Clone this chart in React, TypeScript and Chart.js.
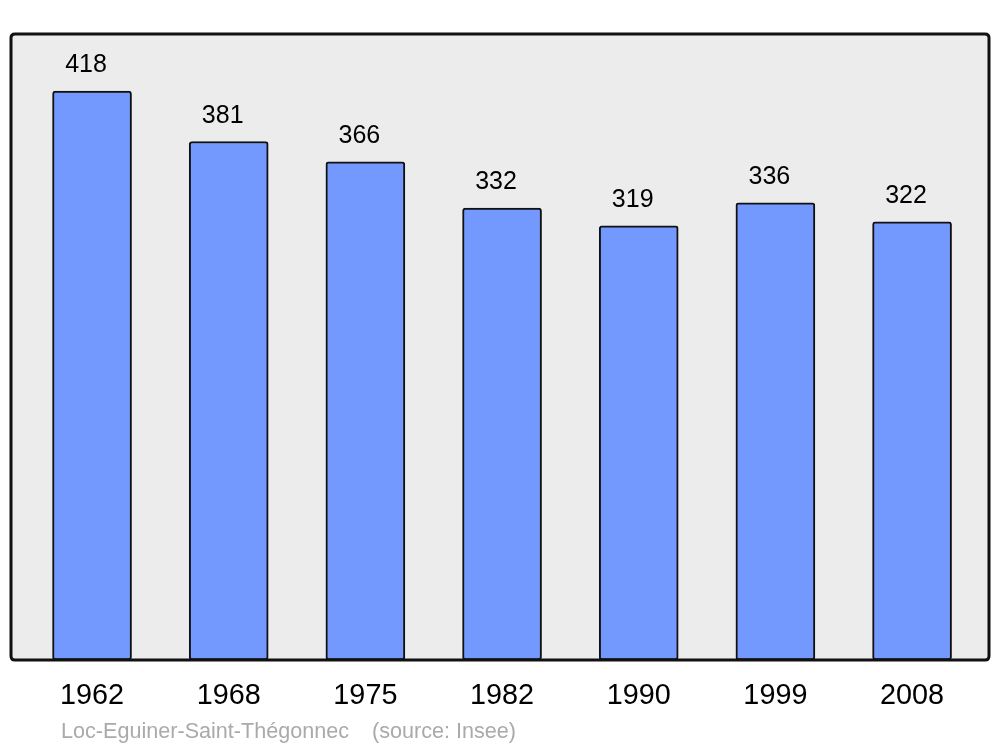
import React, { useEffect, useRef } from "react";
import { Chart, registerables } from "chart.js";

Chart.register(...registerables);

const years = ["1962", "1968", "1975", "1982", "1990", "1999", "2008"];
const population = [418, 381, 366, 332, 319, 336, 322];
const yMax = 460;
const placeName = "Loc-Eguiner-Saint-Thégonnec";
const sourceText = "(source: Insee)";

const FONT = "'Liberation Sans', Arial, Helvetica, sans-serif";

function roundRect(ctx: CanvasRenderingContext2D, x: number, y: number, w: number, h: number, r: number) {
  ctx.beginPath();
  ctx.moveTo(x + r, y);
  ctx.lineTo(x + w - r, y);
  ctx.quadraticCurveTo(x + w, y, x + w, y + r);
  ctx.lineTo(x + w, y + h - r);
  ctx.quadraticCurveTo(x + w, y + h, x + w - r, y + h);
  ctx.lineTo(x + r, y + h);
  ctx.quadraticCurveTo(x, y + h, x, y + h - r);
  ctx.lineTo(x, y + r);
  ctx.quadraticCurveTo(x, y, x + r, y);
  ctx.closePath();
}

const framePlugin = {
  id: "frame",
  beforeDatasetsDraw(chart: any) {
    const { ctx, chartArea } = chart;
    const x = chartArea.left - 12.7;
    const w = chartArea.right + 8.6 - x;
    ctx.save();
    roundRect(ctx, x, chartArea.top, w, chartArea.bottom - chartArea.top, 4);
    ctx.fillStyle = "#ececec";
    ctx.fill();
    ctx.restore();
  },
  afterDatasetsDraw(chart: any) {
    const { ctx, chartArea } = chart;
    const x = chartArea.left - 12.7;
    const w = chartArea.right + 8.6 - x;
    ctx.save();
    roundRect(ctx, x, chartArea.top, w, chartArea.bottom - chartArea.top, 4);
    ctx.lineWidth = 3;
    ctx.strokeStyle = "#111";
    ctx.stroke();

    // value labels
    const meta = chart.getDatasetMeta(0);
    ctx.fillStyle = "#000";
    ctx.font = `25px ${FONT}`;
    ctx.textAlign = "center";
    ctx.textBaseline = "alphabetic";
    meta.data.forEach((bar: any, i: number) => {
      ctx.fillText(String(population[i]), bar.x - 6, bar.y - 19);
    });

    // footer
    ctx.fillStyle = "#aaaaaa";
    ctx.font = `21.6px ${FONT}`;
    ctx.textAlign = "left";
    ctx.fillText(placeName, 61, 738);
    ctx.fillText(sourceText, 372, 738);
    ctx.restore();
  },
};

export default function App() {
  const ref = useRef<HTMLCanvasElement | null>(null);
  useEffect(() => {
    if (!ref.current) return;
    const chart = new Chart(ref.current, {
      type: "bar",
      data: {
        labels: years,
        datasets: [
          {
            data: population,
            backgroundColor: "#7399ff",
            borderColor: "#111",
            borderWidth: 2,
            borderRadius: 3,
            borderSkipped: false,
            barThickness: 79,
          },
        ],
      },
      options: {
        animation: false,
        responsive: false,
        maintainAspectRatio: false,
        layout: { padding: { left: 23.7, right: 19.6, top: 34, bottom: 0 } },
        plugins: { legend: { display: false }, tooltip: { enabled: false } },
        scales: {
          x: {
            grid: { display: false, drawTicks: false },
            border: { display: false },
            ticks: { color: "#000", font: { family: FONT, size: 28.8 }, padding: 19 },
            afterFit: (scale: any) => {
              scale.height = 87;
            },
          },
          y: {
            display: false,
            min: 0,
            max: yMax,
          },
        },
      },
      plugins: [framePlugin],
    });
    return () => chart.destroy();
  }, []);
  return (
    <div style={{ position: "fixed", left: 0, top: 0, width: 1000, height: 747, background: "#fff" }}>
      <canvas ref={ref} width={1000} height={747} style={{ width: 1000, height: 747 }} />
    </div>
  );
}
